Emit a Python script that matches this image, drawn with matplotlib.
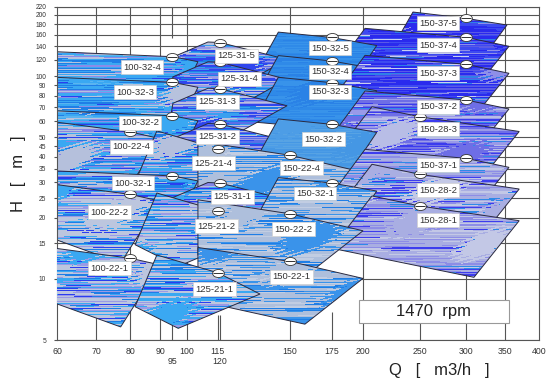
import numpy as np
import matplotlib
matplotlib.use("Agg")
import matplotlib.pyplot as plt
from matplotlib.patches import Polygon, Rectangle
from matplotlib.path import Path
from matplotlib.colors import to_rgb
from matplotlib.transforms import blended_transform_factory

plt.rcParams['font.family'] = ['Liberation Sans', 'DejaVu Sans']

# --- pump family outlines: Q [m3/h], head relative to the BEP head ---
shape_100_22_q = [57, 80, 90, 77, 57]
shape_100_22_h = [1.139, 1.0, 0.927, 0.459, 0.628]
shape_100_32_q = [57, 94.4, 104.4, 93, 57]
shape_100_32_h = [1.064, 1.0, 0.945, 0.478, 0.60]
shape_125_21_q = [88.8, 112.8, 133.3, 96.6, 81.5]
shape_125_21_h = [1.222, 1.0, 0.785, 0.532, 0.680]
shape_125_31_q = [94.6, 108.6, 113.9, 148.3, 124, 92]
shape_125_31_h = [0.848, 1.006, 1.0, 0.825, 0.62, 0.52]
shape_150_22_q = [104.4, 150, 200, 159.1, 116.9, 104.4]
shape_150_22_h = [1.172, 1.0, 0.825, 0.491, 0.597, 0.628]
shape_150_32_q = [143.3, 176.8, 211.1, 190, 130]
shape_150_32_h = [1.063, 1.0, 0.913, 0.58, 0.64]
shape_150_28_q = [207.2, 250, 370, 309.6, 176.8]
shape_150_28_h = [1.12, 1.0, 0.846, 0.445, 0.619]
shape_150_37_q = [201.6, 300, 355.4, 297.7, 172.2]
shape_150_37_h = [1.107, 1.0, 0.903, 0.478, 0.60]
shape_150_37_5_q = [243.5, 300, 352.6, 297.7, 214.7]
shape_150_37_5_h = [1.074, 1.0, 0.927, 0.478, 0.57]

# BEP flow of each family
family_names = ['100-22', '100-32', '125-21', '125-31', '150-22', '150-32', '150-28', '150-37']
family_bep_q = [80, 94.4, 112.8, 113.9, 150, 176.8, 250, 300]

# --- pump zones: name, BEP head [m] ---
zone_names = ['100-22-1', '100-22-2', '100-22-4', '100-32-1', '100-32-2', '100-32-3', '100-32-4',
              '125-21-1', '125-21-2', '125-21-4', '125-31-1', '125-31-2', '125-31-3', '125-31-4', '125-31-5',
              '150-22-1', '150-22-2', '150-22-4', '150-32-1', '150-32-2', '150-32-3', '150-32-4', '150-32-5',
              '150-28-1', '150-28-2', '150-28-3', '150-37-1', '150-37-2', '150-37-3', '150-37-4', '150-37-5']
zone_bep_h = [12.65, 26.1, 53.0, 32.2, 63.7, 93.1, 124.5,
              10.74, 21.7, 43.9, 29.7, 58.0, 86.5, 116.8, 146.2,
              12.2, 20.95, 40.7, 29.7, 57.8, 92.7, 118.6, 154.8,
              22.9, 32.8, 63.0, 39.3, 76.2, 114.2, 155.1, 192.4]

# label anchor points
label_q = [73.6, 73.6, 80.4, 80.9, 83.1, 81.5, 83.7,
           111.4, 112.4, 110.9, 119.7, 112.7, 112.7, 122.9, 121.6,
           151, 152, 157.1, 165.5, 171, 175.6, 175.6, 175.6,
           268.7, 268.7, 268.7, 268.7, 268.7, 268.7, 268.7, 268.7]
label_h = [11.29, 21.3, 44.8, 29.6, 58.9, 83.1, 110.4,
           8.9, 18.24, 37.2, 25.4, 50.2, 74.7, 96.7, 125.5,
           10.26, 17.57, 35.1, 26.4, 48.9, 83.7, 105, 136.9,
           19.5, 27.4, 54.8, 36.4, 70.6, 103.1, 142.1, 181.8]

xtick_pos = [60, 70, 80, 90, 100, 112.8, 150, 176.8, 200, 250, 300, 350, 400]
xtick_lab = ['60', '70', '80', '90', '100', '115', '150', '175', '200', '250', '300', '350', '400']
xtick2_pos = [94.4, 113.9]
xtick2_lab = ['95', '120']
ytick_pos = [5, 10, 15, 20, 25, 30, 35, 40, 45, 50, 60, 70, 80, 90, 100, 120, 140, 160, 180, 200, 220]
grid_q = [70, 80, 90, 100, 150, 200, 250, 300, 350]

shapes = {
    '100-22': (shape_100_22_q, shape_100_22_h), '100-32': (shape_100_32_q, shape_100_32_h),
    '125-21': (shape_125_21_q, shape_125_21_h), '125-31': (shape_125_31_q, shape_125_31_h),
    '150-22': (shape_150_22_q, shape_150_22_h), '150-32': (shape_150_32_q, shape_150_32_h),
    '150-28': (shape_150_28_q, shape_150_28_h), '150-37': (shape_150_37_q, shape_150_37_h),
    '150-37-5': (shape_150_37_5_q, shape_150_37_5_h),
}
bep_q = dict(zip(family_names, family_bep_q))

# texture palettes (colour, weight); first two also used for the large blobs
palettes = {
    'gray': [('#bcc6de', .45), ('#3aa8f2', .2), ('#1f7ee6', .12), ('#9a9ae6', .15), ('#2a3ef0', .08)],
    'mix': [('#b5c0dc', .3), ('#3aa8f2', .25), ('#1f7ee6', .2), ('#8585e6', .15), ('#2a3ef0', .1)],
    'blue': [('#b7c2dd', .12), ('#3aa8f2', .4), ('#1f7ee6', .25), ('#8b8be8', .1), ('#2a3ef0', .05), ('#5ab4f0', .08)],
    'violet_blue': [('#b9c1dd', .15), ('#2f46ee', .2), ('#3aa0f0', .15), ('#9a9ae6', .2), ('#5a6ee8', .2), ('#1e7fe6', .1)],
    'solid': [('#2a82e6', .3), ('#2f8ae8', .4), ('#3893ea', .3)],
    'light_solid': [('#4597e4', .3), ('#4d9de6', .4), ('#57a3e4', .3)],
    'gray_blue': [('#aebfdc', .5), ('#3a93ea', .22), ('#1f7ee6', .1), ('#c2cde2', .18)],
    'dark': [('#8f8fe8', .08), ('#2a2aee', .42), ('#3d4af0', .2), ('#5a5ae6', .15), ('#2f7fe8', .1), ('#c8cff0', .05)],
    'violet': [('#b8bde6', .15), ('#6e6ee6', .3), ('#9a9ae8', .25), ('#3b3bee', .2), ('#2f8ae8', .1)],
    'lavender': [('#c3c8e6', .13), ('#a9aee2', .45), ('#8d8de6', .2), ('#3d3dee', .12), ('#2f8ae8', .1)],
}
zone_palette = {
    '100-22-1': 'gray', '100-22-2': 'gray', '100-22-4': 'mix', '100-32-1': 'mix',
    '100-32-2': 'blue', '100-32-3': 'blue', '100-32-4': 'blue',
    '125-21-1': 'gray', '125-21-2': 'gray', '125-21-4': 'mix', '125-31-1': 'mix',
    '125-31-2': 'violet_blue', '125-31-3': 'violet_blue', '125-31-4': 'violet_blue', '125-31-5': 'violet_blue',
    '150-22-1': 'gray_blue', '150-22-2': 'gray_blue', '150-22-4': 'gray_blue', '150-32-1': 'gray_blue',
    '150-32-2': 'light_solid', '150-32-3': 'solid', '150-32-4': 'solid', '150-32-5': 'solid',
    '150-28-1': 'lavender', '150-28-2': 'lavender', '150-28-3': 'violet', '150-37-1': 'lavender',
    '150-37-2': 'violet', '150-37-3': 'dark', '150-37-4': 'dark', '150-37-5': 'dark',
}


def frac(a):
    return a - np.floor(a)


def streak_texture(seed, palette, ny=334, nx=482):
    """fine horizontal streaks like the scanned fill"""
    cols = np.array([to_rgb(c) for c, _ in palette])
    cum = np.cumsum([w for _, w in palette])
    cum = cum / cum[-1]
    row = np.arange(ny)[:, None].astype(float)
    col = np.arange(nx)[None, :].astype(float)
    h1 = frac(np.sin(row * 12.9898 + seed * 4.1414) * 43758.5453)
    h2 = frac(np.sin(row * 39.346 + seed * 1.13) * 24634.6345)
    seg = np.floor((col + h1 * 200.0) / (15 + 80 * h2))
    v = frac(np.sin(seg * 78.233 + row * 12.9898 + seed * 3.7) * 43758.5453)
    rgb = cols[np.searchsorted(cum, np.clip(v, 0, 0.9999))]
    blob = 0.5 + 0.5 * np.sin(col * 0.03 + row * 0.05 + seed) * np.sin(col * 0.011 - row * 0.03 + 2 * seed)
    wob = 0.06 * np.sin(col * 0.5 + row * 1.7)
    rgb[(blob + wob) < 0.12] = cols[0]
    rgb[(blob + wob) > 0.86] = cols[1]
    return rgb


fig = plt.figure(figsize=(5.54, 3.85), dpi=100)
ax = fig.add_axes([57.3 / 554, 1 - 340.1 / 385, 481.7 / 554, 333.6 / 385])
ax.set_xscale('log')
ax.set_yscale('log')
ax.set_xlim(60, 400)
ax.set_ylim(5, 220)
ax.set_autoscale_on(False)

grid_kw = dict(color='#555555', lw=0.8, zorder=1)
for h in ytick_pos:
    ax.axhline(h, **grid_kw)
for q in grid_q:
    ax.axvline(q, **grid_kw)
ax.vlines([94.4], 153.8, 220, **grid_kw)
ax.vlines([94.4, 112.8, 113.9, 176.8], 5, [6.43, 6.65, 6.65, 6.9], **grid_kw)

# zones, highest head first so lower zones lie on top
order = sorted(range(len(zone_names)), key=lambda i: -zone_bep_h[i])
for n, i in enumerate(order):
    name = zone_names[i]
    q_rel, h_rel = shapes.get(name, shapes[name[:6]])
    verts = [(q, r * zone_bep_h[i]) for q, r in zip(q_rel, h_rel)]
    z = 2 + n * 0.02
    poly = Polygon(verts, closed=True, fill=False, ec='#2a2a40', lw=0.7, zorder=z + 0.01)
    ax.add_patch(poly)
    im = ax.imshow(streak_texture(i + 1, palettes[zone_palette[name]]), extent=[0, 1, 0, 1],
                   transform=ax.transAxes, aspect='auto', interpolation='nearest', zorder=z)
    im.set_clip_path(poly)

# BEP markers
ell = Path.unit_circle()
ell = Path(ell.vertices * [1.0, 0.68], ell.codes)
mq = [bep_q[nm[:6]] for nm in zone_names]
ax.plot(mq, zone_bep_h, ls='none', marker=ell, ms=8.5, mfc='white', mec='#333333', mew=0.6, zorder=20)
ax.plot(mq, zone_bep_h, ls='none', marker='_', ms=7, mec='#333333', mew=0.7, zorder=21)

for nm, q, h in zip(zone_names, label_q, label_h):
    ax.text(q, h, nm, ha='center', va='center', fontsize=6.8, color='#333333', zorder=22,
            bbox=dict(boxstyle='square,pad=0.25', fc='white', ec='#d0d0d0', lw=0.5))

ax.set_xticks(xtick_pos)
ax.set_xticklabels(xtick_lab)
ax.set_yticks(ytick_pos)
ax.set_yticklabels([str(v) for v in ytick_pos])
ax.minorticks_off()
ax.tick_params(axis='x', length=0, pad=5, labelsize=6.3, labelcolor='#333333')
ax.tick_params(axis='y', length=2, pad=6, labelsize=4.8, labelcolor='#333333', color='#555555')
tr = blended_transform_factory(ax.transData, ax.transAxes)
for q, lab in zip(xtick2_pos, xtick2_lab):
    ax.text(q, -0.064, lab, transform=tr, ha='center', va='center', fontsize=6.3, color='#333333')
for sp in ax.spines.values():
    sp.set_color('#555555')
    sp.set_linewidth(0.8)

ax.add_patch(Rectangle((0.626, 0.052), 0.312, 0.068, transform=ax.transAxes, fc='white',
                       ec='#999999', lw=0.8, zorder=23))
ax.text(0.782, 0.086, '1470  rpm', transform=ax.transAxes, ha='center', va='center',
        fontsize=12, color='#222222', zorder=24)

fig.text(439 / 554, 1 - 371 / 385, 'Q   [   m3/h   ]', ha='center', va='center', fontsize=12, color='#222222')
fig.text(19 / 554, 1 - 174 / 385, 'H   [   m   ]', ha='center', va='center', rotation=90,
         fontsize=12, color='#222222')

fig.savefig('out.png', dpi=100)
